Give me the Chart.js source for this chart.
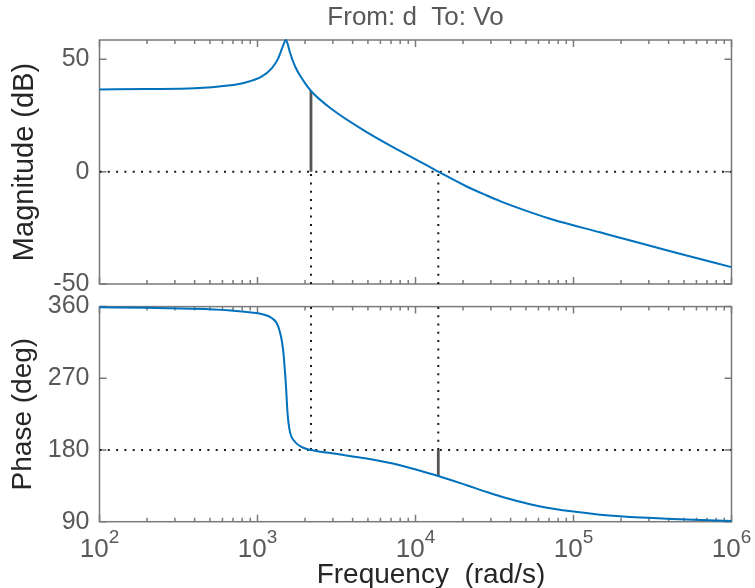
<!DOCTYPE html>
<html>
<head>
<meta charset="utf-8">
<script src="https://cdn.jsdelivr.net/npm/chart.js"></script>
<style>
  body { margin: 0; background: #fff; }
  #wrap { position: relative; width: 755px; height: 588px; }
  #wrap canvas { position: absolute; left: 0; top: 0; }
</style>
</head>
<body>
<div id="wrap">
  <canvas id="magChart" width="755" height="588"></canvas>
  <canvas id="phaseChart" width="755" height="588"></canvas>
</div>
<script>
// frequency response d -> Vo (rad/s, dB, deg)
const freq = [100, 200, 400, 650, 830, 1060, 1230, 1350, 1450, 1510, 1550, 1600, 1730, 1950, 2180,
  3020, 4910, 7980, 12970, 13940, 21090, 28240, 34270, 53070, 74500, 147200, 196700, 389000, 519700, 1000000]
const magDb = [36.6, 36.8, 37.1, 38.3, 39.6, 42.3, 46.0, 50.3, 56.0, 58.6, 57.0, 53.4, 46.8, 40.5, 35.9,
  27.3, 17.6, 9.2, 1.2, 0, -6.6, -10.6, -13.1, -18.0, -21.4, -27.0, -29.4, -35.0, -37.3, -42.5]
const phaseDeg = [359.1, 358.5, 357.2, 355.3, 353.4, 350.6, 345.6, 335.5, 307, 264, 226, 204, 190, 182.8, 180,
  175.5, 169.2, 160.8, 149.2, 147.4, 135.8, 127.3, 122.0, 112.0, 106.2, 98.8, 96.7, 93.6, 92.8, 91.0]

// stability margins
const gmFreq = 2180, gmMag = 35.9
const pmFreq = 13940, pmPhase = 147.4

// axes
const decades = [100, 1000, 10000, 100000, 1000000]
const exponents = [2, 3, 4, 5, 6]
const magTicks = [-50, 0, 50]
const phaseTicks = [90, 180, 270, 360]

const family = "'Liberation Sans', Arial, sans-serif"
const tickColor = '#595959'
const labelColor = '#262626'
const boxColor = '#7a7a7a'
const blue = '#0072BD'

Chart.defaults.font.family = family

// all 1..9 multiples per decade for the log axis tick marks
const xTicks = []
decades.slice(0, -1).forEach(d => {
  for (let k = 1; k < 10; k++) xTicks.push({ value: d * k, major: k === 1 })
})
xTicks.push({ value: 1000000, major: true })

const pts = (xs, ys) => xs.map((x, i) => ({ x: x, y: ys[i] }))

const dotted = (data) => ({
  data: data,
  borderColor: '#1a1a1a',
  borderWidth: 2,
  borderDash: [2, 6.3],
  pointRadius: 0,
  order: 3,
})

const marker = (data) => ({
  data: data,
  borderColor: '#555',
  borderWidth: 2.8,
  pointRadius: 0,
  order: 2,
})

// MATLAB-like box with inward ticks on all four sides
const frame = {
  id: 'frame',
  beforeDatasetsDraw(chart) {
    const { ctx, chartArea: a, scales: { x, y } } = chart
    ctx.save()
    ctx.strokeStyle = boxColor
    ctx.lineWidth = 1.5
    ctx.strokeRect(a.left, a.top, a.right - a.left, a.bottom - a.top)
    ctx.beginPath()
    xTicks.forEach(t => {
      const px = x.getPixelForValue(t.value)
      const len = t.major ? 7 : 4
      ctx.moveTo(px, a.bottom); ctx.lineTo(px, a.bottom - len)
      ctx.moveTo(px, a.top); ctx.lineTo(px, a.top + len)
    })
    y.ticks.forEach(t => {
      const py = y.getPixelForValue(t.value)
      ctx.moveTo(a.left, py); ctx.lineTo(a.left + 7, py)
      ctx.moveTo(a.right, py); ctx.lineTo(a.right - 7, py)
    })
    ctx.stroke()
    ctx.restore()
  }
}

// 10^n labels and the frequency label under the phase axes
const decadeLabels = {
  id: 'decadeLabels',
  afterDraw(chart) {
    const { ctx, chartArea: a, scales: { x } } = chart
    ctx.save()
    ctx.fillStyle = tickColor
    ctx.textAlign = 'left'
    ctx.textBaseline = 'alphabetic'
    decades.forEach((d, i) => {
      const px = x.getPixelForValue(d)
      const exp = String(exponents[i])
      ctx.font = '26px ' + family
      const w1 = ctx.measureText('10').width
      ctx.font = '19px ' + family
      const w2 = ctx.measureText(exp).width
      const left = px - (w1 + w2) / 2
      ctx.font = '26px ' + family
      ctx.fillText('10', left, a.bottom + 35)
      ctx.font = '19px ' + family
      ctx.fillText(exp, left + w1, a.bottom + 21)
    })
    ctx.fillStyle = labelColor
    ctx.font = '28px ' + family
    ctx.textAlign = 'center'
    ctx.fillText('Frequency  (rad/s)', 431, a.bottom + 61)
    ctx.restore()
  }
}

const xScale = {
  type: 'logarithmic',
  min: 100,
  max: 1000000,
  grid: { display: false },
  border: { display: false },
  ticks: { display: false },
  afterFit: (s) => { s.height = 0 },
}

const yScale = (min, max, ticks, title, size, pad) => ({
  type: 'linear',
  min: min,
  max: max,
  grid: { display: false, drawTicks: false },
  border: { display: false },
  ticks: { color: tickColor, font: { size: 25 }, padding: 10 },
  afterBuildTicks: (s) => { s.ticks = ticks.map(v => ({ value: v })) },
  afterFit: (s) => { s.width = 99.5 },
  title: {
    display: true,
    text: title,
    color: labelColor,
    font: { size: size, lineHeight: 1.2 },
    padding: { top: pad, bottom: 0 },
  },
})

const magChart = new Chart(document.getElementById('magChart'), {
  type: 'line',
  data: {
    datasets: [
      { data: pts(freq, magDb), borderColor: blue, borderWidth: 2, pointRadius: 0,
        cubicInterpolationMode: 'monotone', clip: false, order: 1 },
      marker([{ x: gmFreq, y: 0 }, { x: gmFreq, y: gmMag }]),
      dotted([{ x: 100, y: 0 }, { x: 1000000, y: 0 }]),
      dotted([{ x: gmFreq, y: -50 }, { x: gmFreq, y: 0 }]),
      dotted([{ x: pmFreq, y: -50 }, { x: pmFreq, y: 0 }]),
    ],
  },
  options: {
    responsive: false,
    animation: false,
    layout: { padding: { top: 0, left: 0, right: 23.5, bottom: 304 } },
    scales: {
      x: xScale,
      y: yScale(-50, 58.6, magTicks, 'Magnitude (dB)', 29, 8),
    },
    plugins: {
      legend: { display: false },
      tooltip: { enabled: false },
      title: {
        display: true,
        fullSize: false,
        text: 'From: d  To: Vo',
        color: tickColor,
        font: { size: 26, weight: 'normal', lineHeight: 1.2 },
        padding: { top: 2, bottom: 6.8 },
      },
    },
  },
  plugins: [frame],
})

const phaseChart = new Chart(document.getElementById('phaseChart'), {
  type: 'line',
  data: {
    datasets: [
      { data: pts(freq, phaseDeg), borderColor: blue, borderWidth: 2, pointRadius: 0,
        cubicInterpolationMode: 'monotone', clip: false, order: 1 },
      marker([{ x: pmFreq, y: 180 }, { x: pmFreq, y: pmPhase }]),
      dotted([{ x: 100, y: 180 }, { x: 1000000, y: 180 }]),
      dotted([{ x: gmFreq, y: 180 }, { x: gmFreq, y: 360 }]),
      dotted([{ x: pmFreq, y: 180 }, { x: pmFreq, y: 360 }]),
    ],
  },
  options: {
    responsive: false,
    animation: false,
    layout: { padding: { top: 306.6, left: 0, right: 23.5, bottom: 66.3 } },
    scales: {
      x: xScale,
      y: yScale(90, 360, phaseTicks, 'Phase (deg)', 28, 6),
    },
    plugins: {
      legend: { display: false },
      tooltip: { enabled: false },
    },
  },
  plugins: [frame, decadeLabels],
})
</script>
</body>
</html>
